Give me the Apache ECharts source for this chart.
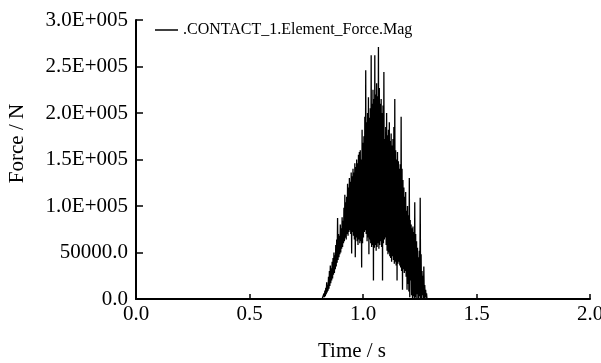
<!DOCTYPE html>
<html>
<head>
<meta charset="utf-8">
<script src="https://cdn.jsdelivr.net/npm/echarts@6/dist/echarts.min.js"></script>
<style>
  html, body { margin: 0; padding: 0; background: #fff; }
  #chart { width: 601px; height: 363px; }
</style>
</head>
<body>
<div id="chart"></div>
<script>
// tick labels as printed on the plot
const xTickLabels = ['0.0', '0.5', '1.0', '1.5', '2.0'];
const yTickLabels = ['0.0', '50000.0', '1.0E+005', '1.5E+005', '2.0E+005', '2.5E+005', '3.0E+005'];

// contact window, samples every 2 ms (peak / trough alternate)
const tStart = 0.820;
const tStep = 0.002;

// force in kN
const peakKN = [
  0, 3, 6, 9, 12, 18, 15, 24, 30, 36,
  33, 40, 44, 50, 47, 58, 64, 87, 70, 68,
  80, 76, 88, 84, 98, 112, 104, 110, 124, 120,
  130, 126, 136, 132, 140, 136, 146, 142, 150, 146,
  155, 158, 160, 150, 182, 168, 175, 196, 246, 190,
  200, 217, 195, 205, 262, 210, 225, 215, 262, 220,
  232, 218, 271, 227, 210, 215, 200, 208, 244, 172,
  185, 200, 176, 182, 190, 170, 178, 165, 172, 185,
  215, 160, 150, 158, 148, 140, 145, 196, 140, 128,
  120, 110, 115, 95, 100, 90, 130, 85, 80, 76,
  78, 72, 104, 70, 62, 55, 45, 52, 109, 48,
  30, 25, 35, 15, 10, 6, 0
];
const troughKN = [
  0, 1, 2, 3, 5, 7, 9, 11, 14, 17,
  20, 22, 26, 28, 32, 35, 39, 42, 45, 48,
  50, 54, 56, 60, 62, 66, 64, 70, 68, 72,
  74, 70, 49, 72, 68, 64, 45, 66, 62, 58,
  64, 60, 62, 34, 60, 66, 72, 74, 70, 62,
  66, 48, 64, 60, 56, 58, 20, 55, 58, 52,
  56, 60, 54, 58, 62, 56, 20, 60, 64, 66,
  58, 52, 48, 50, 46, 44, 40, 46, 42, 38,
  40, 36, 20, 38, 40, 36, 34, 30, 10, 32,
  28, 30, 24, 10, 16, 8, 2, 20, 4, 0,
  3, 0, 2, 0, 5, 0, 0, 3, 0, 0,
  4, 0, 0, 2, 0, 0, 0
];

const seriesName = '.CONTACT_1.Element_Force.Mag';

const forceData = [[0, 0]];
peakKN.forEach((p, i) => {
  forceData.push([tStart + 2 * i * tStep, p * 1000]);
  forceData.push([tStart + (2 * i + 1) * tStep, troughKN[i] * 1000]);
});
forceData.push([2.0, 0]);

const FONT = 'Liberation Serif';

var chartDom = document.getElementById('chart');
var myChart = echarts.init(chartDom);
var option;

option = {
  animation: false,
  backgroundColor: '#fff',
  textStyle: { fontFamily: FONT, color: '#000' },
  grid: { left: 136, right: 11, top: 20, bottom: 64, outerBoundsMode: 'none', containLabel: false },
  legend: {
    left: 150,
    top: 17,
    itemWidth: 23,
    itemHeight: 1.5,
    itemGap: 5,
    textStyle: { fontFamily: FONT, fontSize: 16, color: '#000' },
    data: [{ name: seriesName, icon: 'rect' }],
  },
  xAxis: {
    type: 'value',
    min: 0,
    max: 2,
    interval: 0.5,
    name: 'Time / s',
    nameLocation: 'middle',
    nameGap: 42,
    nameTextStyle: { fontFamily: FONT, fontSize: 21, color: '#000', padding: [0, 22, 0, 0] },
    axisLine: { lineStyle: { color: '#000', width: 2 } },
    axisTick: { inside: true, length: 5, lineStyle: { color: '#000', width: 1.5 } },
    axisLabel: {
      fontFamily: FONT, fontSize: 21, color: '#000', margin: 5,
      formatter: (v, i) => xTickLabels[i],
    },
    splitLine: { show: false },
  },
  yAxis: {
    type: 'value',
    min: 0,
    max: 300000,
    interval: 50000,
    name: 'Force / N',
    nameLocation: 'middle',
    nameGap: 108,
    nameTextStyle: { fontFamily: FONT, fontSize: 21, color: '#000', padding: [0, 0, 0, 32] },
    axisLine: { show: true, lineStyle: { color: '#000', width: 2 } },
    axisTick: { show: true, inside: true, length: 7, lineStyle: { color: '#000', width: 1.5 } },
    axisLabel: {
      fontFamily: FONT, fontSize: 21, color: '#000', margin: 8,
      formatter: (v, i) => yTickLabels[i],
    },
    splitLine: { show: false },
  },
  series: [
    {
      name: seriesName,
      type: 'line',
      symbol: 'none',
      lineStyle: { color: '#000', width: 1.3 },
      itemStyle: { color: '#000' },
      data: forceData,
    },
  ],
};

option && myChart.setOption(option);
</script>
</body>
</html>
